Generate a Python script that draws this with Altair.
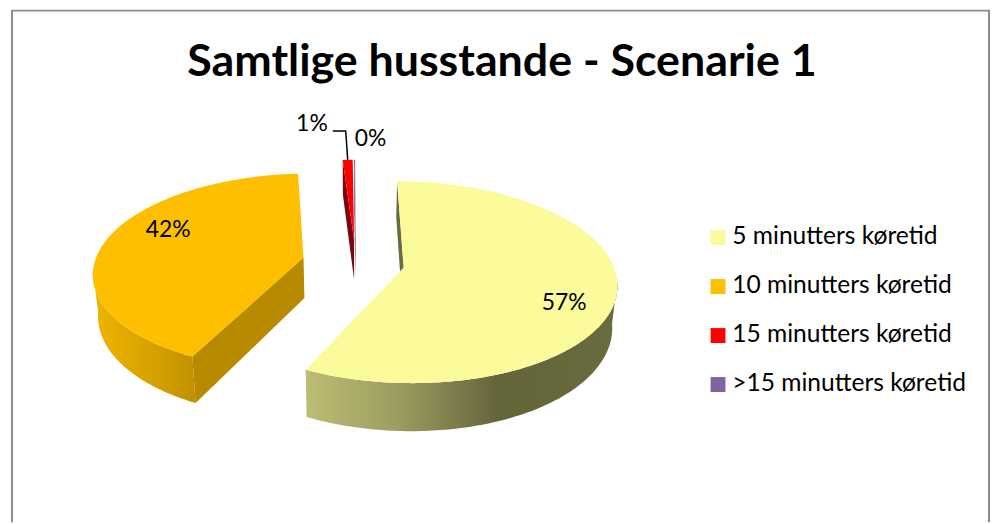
import math
import altair as alt

# ---- data
categories = ["5 minutters køretid", "10 minutters køretid", "15 minutters køretid", ">15 minutters køretid"]
shares = [57.2, 41.8, 0.9, 0.1]
colors = ["#FBFB9B", "#FDBF00", "#FF0000", "#8064A2"]
face_colors = ["#6B6B40", "#B88A00", "#7A0612", "#5A4672"]
title_text = "Samtlige husstande - Scenarie 1"

# ---- drawing geometry of the tilted, exploded pie (image pixels)
OX, OY = 354.0, 262.0
R = 210.0
EXPLODE = [53.0, 50.0, 50.0, 50.0]
NUDGE_U = [0.0, 0.0, 4.0, 4.0]
PERSP, TILT, DEPTH = 0.144 / 211.0, 0.466, 41.0
LOW = 0.98


def project(u, v, z=0.0):
    s = 1.0 / (1.0 + PERSP * v)
    x = OX + s * u
    y = OY - TILT * s * v
    if z:
        x = OX + (x - OX) * LOW
        y += DEPTH * s
    return [round(x, 2), round(y, 2)]


spans = []
start = 0.0
for sh in shares:
    sweep = sh * 3.6
    spans.append((start, start + sweep, start + sweep / 2))
    start += sweep


def apex(i):
    a = math.radians(spans[i][2])
    return EXPLODE[i] * math.sin(a) + NUDGE_U[i], EXPLODE[i] * math.cos(a)


def rim(i, t, z=0.0, f=1.0):
    a = math.radians(t)
    u0, v0 = apex(i)
    return project(u0 + f * R * math.sin(a), v0 + f * R * math.cos(a), z)


def polygon(pts):
    return {"type": "Polygon", "coordinates": [pts + [pts[0]]]}


def frange(a, b, step=1.0):
    n = max(1, int(math.ceil((b - a) / step)))
    return [a + (b - a) * i / n for i in range(n + 1)]


top_features, face_features, wall_features = [], [], {}
for i, (a, b, m) in enumerate(spans):
    u0, v0 = apex(i)
    tip = project(u0, v0)
    tip_low = project(u0, v0, 1.0)
    arc = [rim(i, t) for t in frange(a, b)]
    top_features.append({"type": "Feature", "geometry": polygon([tip] + arc),
                         "properties": {"category": categories[i]}})
    face_features.append({"type": "Feature",
                          "geometry": polygon([tip, rim(i, a), rim(i, a, 1.0), tip_low]),
                          "properties": {"color": face_colors[i]}})
    lo, hi = max(a, 98.0), min(b, 262.0)
    if hi > lo:
        ts = frange(lo, hi)
        pts = [rim(i, t) for t in ts] + [rim(i, t, 1.0) for t in reversed(ts)]
        wall_features[i] = {"type": "Feature", "geometry": polygon(pts), "properties": {}}

# labels derived from the shares
labels = []
for i, turn, frac in ((0, 12.5, 0.79), (1, 12.0, 0.75)):
    x, y = rim(i, spans[i][2] + turn, 0.0, frac)
    labels.append({"x": x, "y": y, "t": f"{round(shares[i])}%"})
red_rim = rim(2, spans[2][2])
labels.append({"x": red_rim[0] - 36, "y": red_rim[1] - 36, "t": f"{round(shares[2])}%"})
labels.append({"x": red_rim[0] + 23, "y": red_rim[1] - 21, "t": f"{round(shares[3])}%"})

leader = {"type": "Feature", "geometry": {"type": "LineString", "coordinates": [
    red_rim, [red_rim[0] - 2, red_rim[1] - 29], [red_rim[0] - 15, red_rim[1] - 29]]}, "properties": {}}
frame = {"type": "Feature", "geometry": {"type": "LineString", "coordinates": [
    [12, 524], [12, 9], [995, 9], [995, 524]]}, "properties": {}}


def grad(stops):
    return alt.Gradient(gradient="linear", x1=0, x2=1, y1=0, y2=0,
                        stops=[alt.GradientStop(offset=o, color=c) for o, c in stops])


def geo(features):
    return alt.Chart(alt.InlineData(values=features, format=alt.DataFormat(type="json")))


frame_layer = geo([frame]).mark_geoshape(filled=False, stroke="#8C8C8C", strokeWidth=2)
faces_layer = geo(face_features).mark_geoshape(strokeWidth=0).encode(
    fill=alt.Fill("properties.color:N", scale=None))
yellow_wall = geo([wall_features[0]]).mark_geoshape(
    strokeWidth=0,
    fill=grad([(0, "#BDBD74"), (0.3, "#9C9C60"), (0.55, "#707044"), (0.62, "#646439"), (1, "#6B6B40")]))
orange_wall = geo([wall_features[1]]).mark_geoshape(
    strokeWidth=0,
    fill=grad([(0, "#EFB300"), (0.6, "#D6A100"), (1, "#C09000")]))
tops_layer = geo(top_features).mark_geoshape(strokeWidth=0).encode(
    color=alt.Color(
        "properties.category:N",
        scale=alt.Scale(domain=categories, range=colors),
        sort=categories,
        legend=alt.Legend(
            title=None, orient="none", legendX=702, legendY=217,
            symbolType="square", symbolSize=225, symbolOpacity=1, symbolStrokeWidth=0,
            labelFont="Lato", labelFontSize=24.7, labelColor="#000000", labelLimit=320,
            labelOffset=2, rowPadding=23.3, padding=0,
        ),
    )
)
leader_layer = geo([leader]).mark_geoshape(filled=False, stroke="#000000", strokeWidth=1.5)
label_layer = alt.Chart(alt.Data(values=labels)).mark_text(
    font="Lato", fontSize=23, color="#000000", align="center", baseline="middle"
).encode(longitude="x:Q", latitude="y:Q", text="t:N")

chart = alt.layer(
    frame_layer, faces_layer, yellow_wall, orange_wall, tops_layer, leader_layer, label_layer
).project(type="identity", scale=1, translate=[-8, -8]).properties(
    width=990, height=516, padding=0, background="#FFFFFF",
    autosize=alt.AutoSizeParams(type="none"),
    title=alt.TitleParams(title_text, font="Lato", fontWeight="bold", fontSize=45, color="#000000",
                          anchor="middle", offset=-76, dx=2),
).configure_view(stroke=None)

chart.save("out.html", embed_options={"renderer": "svg", "actions": False})
